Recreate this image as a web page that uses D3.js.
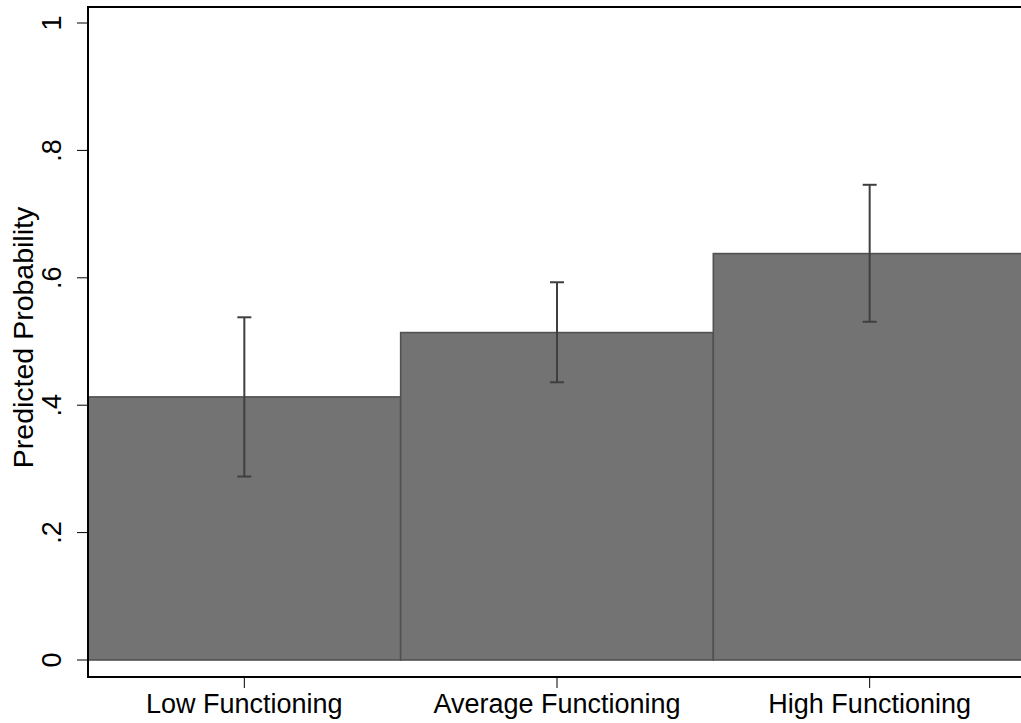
<!DOCTYPE html>
<html>
<head>
<meta charset="utf-8">
<script src="https://cdn.jsdelivr.net/npm/d3@7"></script>
<style>
  body { margin: 0; background: #fff; }
  svg { display: block; font-family: "Liberation Sans", Arial, sans-serif; }
</style>
</head>
<body>
<svg id="chart" width="1021" height="723"></svg>
<script>
    "use strict";

    // data
    var categories = ["Low Functioning", "Average Functioning", "High Functioning"];
    var probs = [0.413, 0.514, 0.638];
    var ciLow = [0.288, 0.436, 0.531];
    var ciHigh = [0.538, 0.593, 0.746];
    var yTicks = [0, 0.2, 0.4, 0.6, 0.8, 1];
    var yTickLabels = ["0", ".2", ".4", ".6", ".8", "1"];

    var rows = categories.map(function(c, i) {
        return { cat: c, p: probs[i], lo: ciLow[i], hi: ciHigh[i] };
    });

    // plot region edges
    var plotLeft = 88, plotTop = 7, plotBottom = 677, plotRight = 1026;
    var labelSize = 27;

    var x = d3.scaleBand().domain(categories).range([plotLeft, plotRight]).padding(0);
    var y = d3.scaleLinear().domain([0, 1]).range([660, 23]);

    var svg = d3.select("#chart");

    // bars
    svg.selectAll(".bar").data(rows).enter().append("rect")
        .attr("class", "bar")
        .attr("x", function(d) { return x(d.cat); })
        .attr("y", function(d) { return y(d.p); })
        .attr("width", x.bandwidth())
        .attr("height", function(d) { return y(0) - y(d.p); })
        .attr("fill", "#737373")
        .attr("stroke", "#515151")
        .attr("stroke-width", 1.6);

    // error bars
    var capW = 14;
    var mid = function(d) { return x(d.cat) + x.bandwidth() / 2; };
    var err = svg.selectAll(".err").data(rows).enter().append("g").attr("class", "err")
        .attr("stroke", "#3f3f3f")
        .attr("stroke-width", 2);
    err.append("line")
        .attr("x1", mid).attr("x2", mid)
        .attr("y1", function(d) { return y(d.lo); })
        .attr("y2", function(d) { return y(d.hi); });
    err.append("line")
        .attr("x1", function(d) { return mid(d) - capW / 2; })
        .attr("x2", function(d) { return mid(d) + capW / 2; })
        .attr("y1", function(d) { return y(d.hi); })
        .attr("y2", function(d) { return y(d.hi); });
    err.append("line")
        .attr("x1", function(d) { return mid(d) - capW / 2; })
        .attr("x2", function(d) { return mid(d) + capW / 2; })
        .attr("y1", function(d) { return y(d.lo); })
        .attr("y2", function(d) { return y(d.lo); });

    // frame: top border, left and bottom axis lines
    svg.append("path")
        .attr("d", "M" + (plotRight + 5) + "," + plotTop + "H" + plotLeft + "V" + plotBottom + "H" + (plotRight + 5))
        .attr("fill", "none")
        .attr("stroke", "#000")
        .attr("stroke-width", 2);

    // y ticks
    var yt = svg.selectAll(".ytick").data(yTicks).enter().append("g").attr("class", "ytick");
    yt.append("line")
        .attr("x1", plotLeft - 11).attr("x2", plotLeft)
        .attr("y1", function(d) { return y(d); })
        .attr("y2", function(d) { return y(d); })
        .attr("stroke", "#000").attr("stroke-width", 1);
    yt.append("text")
        .attr("transform", function(d) { return "translate(61," + y(d) + ")rotate(-90)"; })
        .attr("text-anchor", "middle")
        .attr("font-size", labelSize)
        .attr("fill", "#000")
        .text(function(d, i) { return yTickLabels[i]; });

    // x ticks
    var xt = svg.selectAll(".xtick").data(categories).enter().append("g").attr("class", "xtick");
    xt.append("line")
        .attr("x1", function(d) { return x(d) + x.bandwidth() / 2; })
        .attr("x2", function(d) { return x(d) + x.bandwidth() / 2; })
        .attr("y1", plotBottom).attr("y2", plotBottom + 11)
        .attr("stroke", "#000").attr("stroke-width", 1);
    xt.append("text")
        .attr("x", function(d) { return x(d) + x.bandwidth() / 2; })
        .attr("y", 713)
        .attr("text-anchor", "middle")
        .attr("font-size", labelSize)
        .attr("fill", "#000")
        .text(function(d) { return d; });

    // y axis title
    svg.append("text")
        .attr("transform", "translate(33," + ((y(0) + y(1)) / 2 - 4) + ")rotate(-90)")
        .attr("text-anchor", "middle")
        .attr("font-size", 28.5)
        .attr("fill", "#000")
        .text("Predicted Probability");
</script>
</body>
</html>
